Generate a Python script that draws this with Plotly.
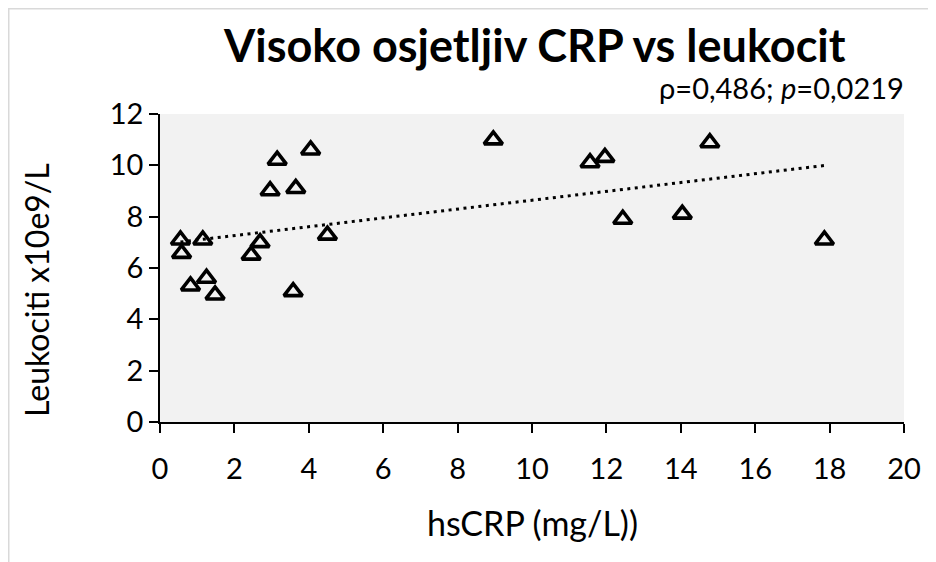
import numpy as np
import plotly.graph_objects as go

# Data
hscrp = [0.55, 0.58, 1.15, 0.82, 1.25, 1.48, 2.45, 2.69, 2.96, 3.15, 3.65,
         3.58, 4.05, 4.50, 8.96, 11.56, 11.96, 12.44, 14.04, 14.78, 17.86]
leukociti = [7.09, 6.57, 7.09, 5.30, 5.60, 4.95, 6.50, 6.99, 9.01, 10.20, 9.10,
             5.08, 10.60, 7.28, 10.99, 10.10, 10.31, 7.90, 8.10, 10.88, 7.09]
x_ticks = [0, 2, 4, 6, 8, 10, 12, 14, 16, 18, 20]
y_ticks = [0, 2, 4, 6, 8, 10, 12]

title_text = "Visoko osjetljiv CRP vs leukocit"
x_title = "hsCRP (mg/L))"
y_title = "Leukociti x10e9/L"
stat_text = "ρ=0,486; <i>p</i>=0,0219"

FONT = "Lato, 'Open Sans', sans-serif"

# Linear trendline (least squares) across the data range
slope, intercept = np.polyfit(hscrp, leukociti, 1)
tx = [min(hscrp), max(hscrp)]
ty = [slope * v + intercept for v in tx]

W, H = 936, 562
OFF = 8  # page body margin offset (screen = figure + OFF)
# desired plot area on screen: x 160..904, y 114..422
L = 160 - OFF
T = 114 - OFF
R = W - (904 - OFF)
B = H - (422 - OFF)
pw, ph = W - L - R, H - T - B

def px(xs):
    """screen x pixel -> paper coordinate"""
    return (xs - OFF - L) / pw

def py(ys):
    """screen y pixel -> paper coordinate"""
    return (H - B - (ys - OFF)) / ph

fig = go.Figure()
fig.add_trace(go.Scatter(
    x=tx, y=ty, mode="lines",
    line=dict(color="black", width=3, dash="3px,4.5px"),
    hoverinfo="skip", showlegend=False,
))
fig.add_trace(go.Scatter(
    x=hscrp, y=leukociti, mode="markers",
    marker=dict(symbol="triangle-up-open", size=16,
                line=dict(color="black", width=3.6), color="black"),
    showlegend=False,
))

fig.update_layout(
    width=W, height=H,
    margin=dict(l=L, r=R, t=T, b=B, pad=0),
    paper_bgcolor="white",
    plot_bgcolor="#f2f2f2",
    font=dict(family=FONT, color="black", size=29),
    showlegend=False,
    xaxis=dict(
        range=[0, 20], tickvals=x_ticks, ticktext=[str(v) for v in x_ticks],
        showgrid=False, zeroline=False, showline=True, linecolor="black",
        linewidth=1.5, ticks="outside", ticklen=9, tickwidth=1.5,
        tickcolor="black", tickfont=dict(size=29, family=FONT),
        ticklabelstandoff=11,
    ),
    yaxis=dict(
        range=[0, 12], tickvals=y_ticks, ticktext=[str(v) for v in y_ticks],
        showgrid=False, zeroline=False, showline=True, linecolor="black",
        linewidth=1.5, ticks="outside", ticklen=9, tickwidth=1.5,
        tickcolor="black", tickfont=dict(size=29, family=FONT),
    ),
    shapes=[dict(
        type="rect", xref="paper", yref="paper",
        x0=px(8.75), x1=px(990), y0=py(640), y1=py(8.75),
        line=dict(color="#d9d9d9", width=1.5), fillcolor="rgba(0,0,0,0)",
        layer="below",
    )],
    annotations=[
        dict(text="<b>" + title_text + "</b>", xref="paper", yref="paper",
             x=px(534), y=py(45), xanchor="center", yanchor="middle",
             showarrow=False, font=dict(size=45, family=FONT)),
        dict(text=stat_text, xref="paper", yref="paper",
             x=px(906), y=py(87), xanchor="right", yanchor="middle",
             showarrow=False, font=dict(size=29, family=FONT)),
        dict(text=x_title, xref="paper", yref="paper",
             x=px(532), y=py(522), xanchor="center", yanchor="middle",
             showarrow=False, font=dict(size=34, family=FONT)),
        dict(text=y_title, xref="paper", yref="paper",
             x=px(36), y=py(290), xanchor="center", yanchor="middle",
             textangle=-90, showarrow=False, font=dict(size=32, family=FONT)),
    ],
)

fig.write_html("out.html")
